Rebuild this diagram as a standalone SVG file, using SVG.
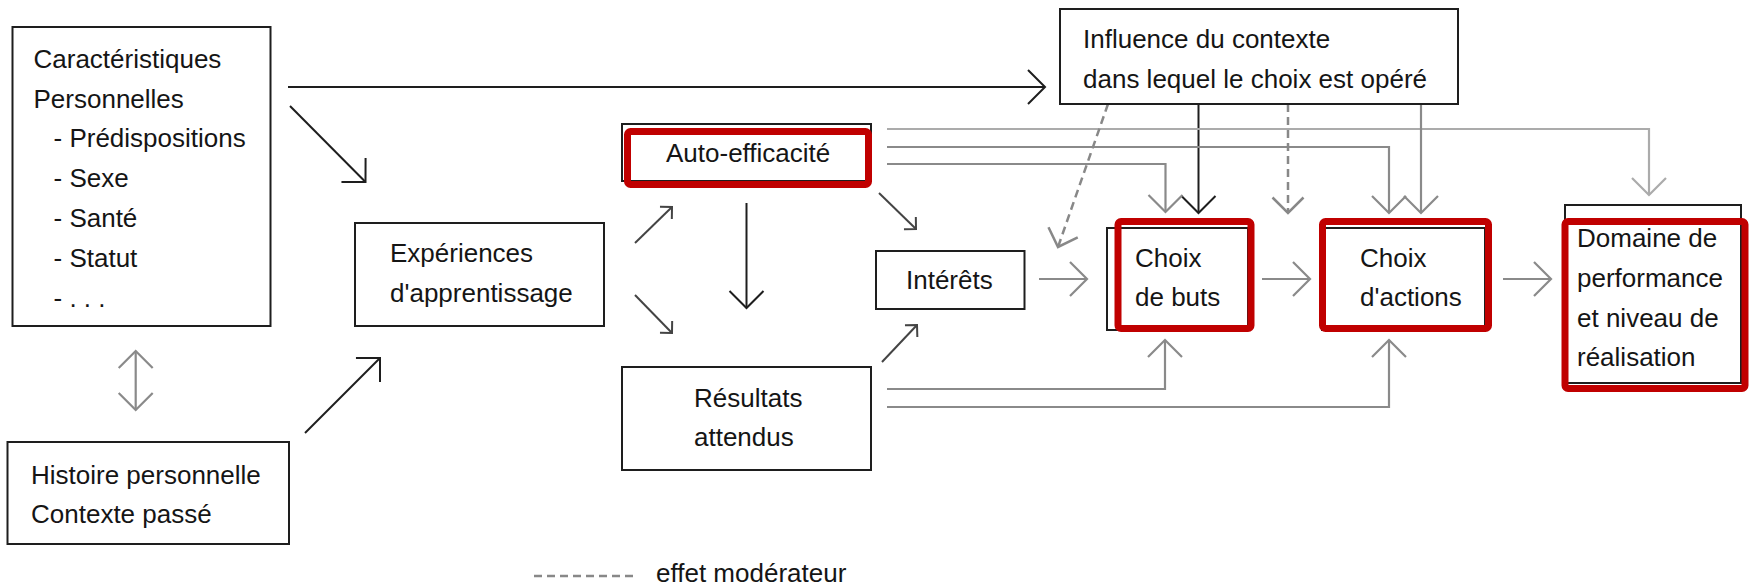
<svg xmlns="http://www.w3.org/2000/svg" width="1752" height="588" viewBox="0 0 1752 588">
<defs>
<style>
.box{fill:#fff;stroke:#1e1e1e;stroke-width:2}
.hl{fill:none;stroke:#c00000;stroke-width:7}
.t{font-family:"Liberation Sans",Arial,sans-serif;font-size:26px;fill:#151515}
.k{fill:none;stroke:#1e1e1e;stroke-width:2}
.d{fill:none;stroke:#444;stroke-width:2}
.g{fill:none;stroke:#8a8a8a;stroke-width:2.2}
.lg{fill:none;stroke:#ababab;stroke-width:2.2}
.dash{fill:none;stroke:#888;stroke-width:2.5;stroke-dasharray:8 5}
</style>
<marker id="ak" markerUnits="userSpaceOnUse" viewBox="-20 -20 40 40" markerWidth="40" markerHeight="40" refX="0" refY="0" orient="auto" overflow="visible"><path d="M-17,-17 L0,0 L-17,17" fill="none" stroke="#1e1e1e" stroke-width="2"/></marker>
<marker id="ad" markerUnits="userSpaceOnUse" viewBox="-20 -20 40 40" markerWidth="40" markerHeight="40" refX="0" refY="0" orient="auto" overflow="visible"><path d="M-8.5,-8.5 L0,0 L-8.5,8.5" fill="none" stroke="#444" stroke-width="2"/></marker>
<marker id="ag" markerUnits="userSpaceOnUse" viewBox="-20 -20 40 40" markerWidth="40" markerHeight="40" refX="0" refY="0" orient="auto-start-reverse" overflow="visible"><path d="M-17,-17 L0,0 L-17,17" fill="none" stroke="#8a8a8a" stroke-width="2.2"/></marker>
<marker id="al" markerUnits="userSpaceOnUse" viewBox="-20 -20 40 40" markerWidth="40" markerHeight="40" refX="0" refY="0" orient="auto" overflow="visible"><path d="M-17,-17 L0,0 L-17,17" fill="none" stroke="#ababab" stroke-width="2.2"/></marker>
<marker id="am" markerUnits="userSpaceOnUse" viewBox="-20 -20 40 40" markerWidth="40" markerHeight="40" refX="0" refY="0" orient="auto" overflow="visible"><path d="M-15.5,-15.5 L0,0 L-15.5,15.5" fill="none" stroke="#888" stroke-width="2.5"/></marker>
</defs>
<rect width="1752" height="588" fill="#fff"/>

<g id="connectors">
<path class="k" d="M288,87 H1045" marker-end="url(#ak)"/>
<path class="k" d="M290,106 L365.5,182" marker-end="url(#ak)"/>
<path class="k" d="M305,433 L380,358" marker-end="url(#ak)"/>
<path class="k" d="M746.5,203 V308" marker-end="url(#ak)"/>
<path class="k" d="M1198.5,104 V213" marker-end="url(#ak)"/>
<path class="d" d="M635,243 L672,207" marker-end="url(#ad)"/>
<path class="d" d="M635,295 L672,333" marker-end="url(#ad)"/>
<path class="d" d="M879,193 L916,229" marker-end="url(#ad)"/>
<path class="d" d="M882,362 L917,325" marker-end="url(#ad)"/>
<path class="g" d="M135.7,351 V410" marker-start="url(#ag)" marker-end="url(#ag)"/>
<path class="lg" d="M887,129 H1649 V195" marker-end="url(#al)"/>
<path class="g" d="M887,147 H1389 V213" marker-end="url(#ag)"/>
<path class="g" d="M887,164 H1165.5 V212" marker-end="url(#ag)"/>
<path class="g" d="M1421,104 V213" marker-end="url(#ag)"/>
<path class="g" d="M1039,279 H1087" marker-end="url(#ag)"/>
<path class="g" d="M1262,279 H1310" marker-end="url(#ag)"/>
<path class="g" d="M1503,279 H1551" marker-end="url(#ag)"/>
<path class="g" d="M887,389 H1165 V340" marker-end="url(#ag)"/>
<path class="g" d="M887,407 H1389 V340" marker-end="url(#ag)"/>
<path class="dash" d="M1288,104 V213" marker-end="url(#am)"/>
<path class="dash" d="M1108,104 L1058,247" marker-end="url(#am)"/>
</g>

<g id="caracteristiques">
<rect class="box" x="12.5" y="27" width="258" height="299"/>
<text class="t" x="33.5" y="68">Caractéristiques</text>
<text class="t" x="33.5" y="108">Personnelles</text>
<text class="t" x="53.5" y="147">- Prédispositions</text>
<text class="t" x="53.5" y="187">- Sexe</text>
<text class="t" x="53.5" y="227">- Santé</text>
<text class="t" x="53.5" y="267">- Statut</text>
<text class="t" x="53.5" y="307">- . . .</text>
</g>

<g id="histoire">
<rect class="box" x="7.5" y="442" width="281.5" height="102"/>
<text class="t" x="31" y="484">Histoire personnelle</text>
<text class="t" x="31" y="523">Contexte passé</text>
</g>

<g id="experiences">
<rect class="box" x="355" y="223" width="249" height="103"/>
<text class="t" x="390" y="262">Expériences</text>
<text class="t" x="390" y="302">d'apprentissage</text>
</g>

<g id="auto-efficacite">
<rect class="box" x="622" y="124" width="249" height="57"/>
<rect class="hl" x="627.5" y="131.5" width="241" height="53" rx="3"/>
<text class="t" x="666" y="162">Auto-efficacité</text>
</g>

<g id="resultats">
<rect class="box" x="622" y="367" width="249" height="103"/>
<text class="t" x="694" y="407">Résultats</text>
<text class="t" x="694" y="446">attendus</text>
</g>

<g id="interets">
<rect class="box" x="876" y="251" width="148.5" height="58"/>
<text class="t" x="906" y="289">Intérêts</text>
</g>

<g id="influence">
<rect class="box" x="1060" y="9" width="398" height="95"/>
<text class="t" x="1083" y="48">Influence du contexte</text>
<text class="t" x="1083" y="88">dans lequel le choix est opéré</text>
</g>

<g id="choix-buts">
<rect class="box" x="1107" y="228" width="141" height="102"/>
<rect class="hl" x="1118" y="221.5" width="133" height="107" rx="3"/>
<text class="t" x="1135" y="267">Choix</text>
<text class="t" x="1135" y="306">de buts</text>
</g>

<g id="choix-actions">
<rect class="box" x="1322" y="228" width="163" height="102"/>
<rect class="hl" x="1322.5" y="221.5" width="166" height="107" rx="3"/>
<text class="t" x="1360" y="267">Choix</text>
<text class="t" x="1360" y="306">d'actions</text>
</g>

<g id="domaine">
<rect class="box" x="1565" y="205" width="176" height="178"/>
<rect class="hl" x="1565" y="221.5" width="180" height="167" rx="3"/>
<text class="t" x="1577" y="247">Domaine de</text>
<text class="t" x="1577" y="287">performance</text>
<text class="t" x="1577" y="327">et niveau de</text>
<text class="t" x="1577" y="366">réalisation</text>
</g>

<g id="legende">
<path class="dash" d="M534,576 H637"/>
<text class="t" x="656" y="582">effet modérateur</text>
</g>
</svg>
